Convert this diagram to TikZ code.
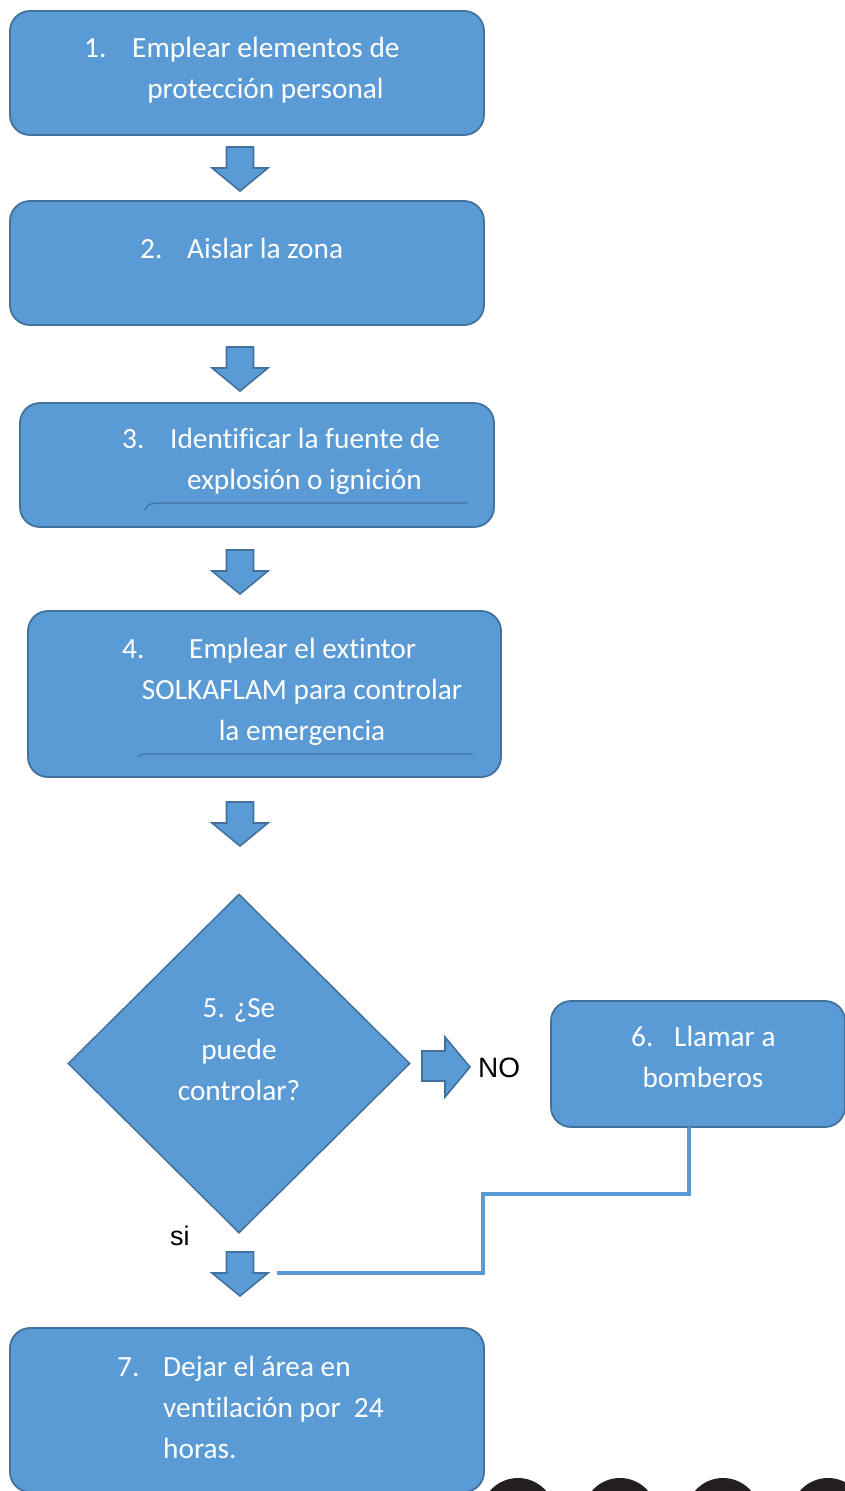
\documentclass[tikz,border=0pt]{standalone}
\usepackage{fontspec}
\setmainfont[Ligatures={NoCommon}]{Carlito}
\newfontfamily\arialf{Liberation Sans}
\usetikzlibrary{shapes.geometric}
\definecolor{boxblue}{HTML}{5B9BD5}
\definecolor{edgeblue}{HTML}{41719C}
\definecolor{darkdot}{HTML}{231F20}
\begin{document}
\begin{tikzpicture}[x=1pt,y=-1pt,
  box/.style={draw=edgeblue, fill=boxblue, line width=1.8pt, rounded corners=20pt, inner sep=0pt, minimum width=474pt},
  dia/.style={diamond, draw=edgeblue, fill=boxblue, line width=1.5pt, inner sep=0pt},
  txt/.style={text=white, font=\fontsize{29.3}{41}\selectfont, inner sep=0pt},
  lbl/.style={text=black, font=\arialf\fontsize{28}{32}\selectfont, inner sep=0pt},
  arrowst/.style={draw=edgeblue, fill=boxblue, line width=1.6pt, line join=miter},
  uline/.style={draw=edgeblue, line width=1.3pt},
  conn/.style={draw=boxblue, line width=3.3pt},
  darr/.pic={\path[arrowst] (-13.5,0) -- (13.5,0) -- (13.5,21) -- (28,21) -- (0,44) -- (-28,21) -- (-13.5,21) -- cycle;}
]
\useasboundingbox (0,0) rectangle (844,1491);

% bottom-right dark circles (partly outside the page)
\fill[darkdot] (518,1515) circle (37pt);
\fill[darkdot] (620,1515) circle (37pt);
\fill[darkdot] (723,1515) circle (37pt);
\fill[darkdot] (828,1515) circle (37pt);

% boxes
\node[box, minimum height=124pt] (b1) at (247,73) {};
\node[box, minimum height=124pt] (b2) at (247,263) {};
\node[box, minimum height=124pt] (b3) at (257,465) {};
\node[box, minimum width=473pt, minimum height=166pt] (b4) at (264.5,694) {};
\node[dia, minimum width=342pt, minimum height=339pt] (d5) at (239,1063.5) {};
\node[box, minimum width=294pt, minimum height=126pt] (b6) at (698,1064) {};
\node[box, minimum height=164pt] (b7) at (247,1410) {};

% underlines inside boxes 3 and 4
\draw[uline] (145,510) .. controls (148,504) .. (158,503) -- (467,503);
\draw[uline] (138,757) .. controls (141,754) .. (151,754) -- (473,754);

% block arrows
\pic at (240,147) {darr};
\pic at (240,347) {darr};
\pic at (240,550) {darr};
\pic at (240,802) {darr};
\pic at (240,1252) {darr};
\path[arrowst] (422,1051) -- (445,1051) -- (445,1037) -- (470,1067) -- (445,1097) -- (445,1081) -- (422,1081) -- cycle;

% connector from box 6
\coordinate (c6) at (689,1127);
\coordinate (cend) at (277,1273);
\draw[conn] (c6) -- (689,1194) -- (483,1194) -- (483,1273) -- (cend);

% texts
\node[txt, anchor=base west] (t1n) at (84,57) {1.};
\node[txt, anchor=base west] (t1a) at (132,57) {Emplear elementos de};
\node[txt, anchor=base] (t1b) at (265.5,98) {protección personal};

\node[txt, anchor=base west] (t2n) at (140,258) {2.};
\node[txt, anchor=base west] (t2a) at (187,258) {Aislar la zona};

\node[txt, anchor=base west] (t3n) at (122,448) {3.};
\node[txt, anchor=base west] (t3a) at (170,448) {Identificar la fuente de};
\node[txt, anchor=base] (t3b) at (304.5,489) {explosión o ignición};

\node[txt, anchor=base west] (t4n) at (122,658) {4.};
\node[txt, anchor=base west] (t4a) at (189,658) {Emplear el extintor};
\node[txt, anchor=base] (t4b) at (302,699) {SOLKAFLAM para controlar};
\node[txt, anchor=base] (t4c) at (302,740) {la emergencia};

\node[txt, anchor=base] (t5a) at (239,1017) {5. ¿Se};
\node[txt, anchor=base] (t5b) at (239,1059) {puede};
\node[txt, anchor=base] (t5c) at (239,1100) {controlar?};

\node[txt, anchor=base west] (t6n) at (631,1046) {6.};
\node[txt, anchor=base west] (t6a) at (674,1046) {Llamar a};
\node[txt, anchor=base] (t6b) at (703,1087) {bomberos};

\node[txt, anchor=base west] (t7n) at (117,1376) {7.};
\node[txt, anchor=base west] (t7a) at (163,1376) {Dejar el área en};
\node[txt, anchor=base west] (t7b) at (163,1417) {ventilación por\ \ 24};
\node[txt, anchor=base west] (t7c) at (163,1458) {horas.};

\node[lbl, anchor=base west] (no) at (478,1077) {NO};
\node[lbl, anchor=base west, font=\arialf\fontsize{27}{30}\selectfont] (si) at (170,1245) {si};
\end{tikzpicture}
\end{document}
